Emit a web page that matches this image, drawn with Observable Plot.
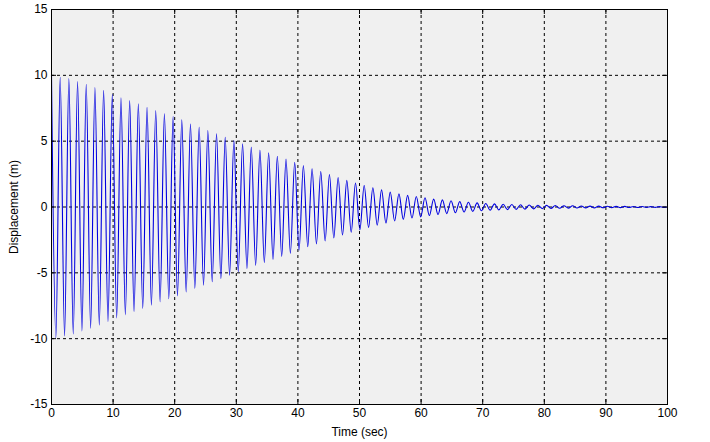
<!DOCTYPE html>
<html>
<head>
<meta charset="utf-8">
<script src="https://cdn.jsdelivr.net/npm/d3@7"></script>
<script src="https://cdn.jsdelivr.net/npm/@observablehq/plot@0.6"></script>
<style>
  html, body { margin: 0; padding: 0; background: white; }
</style>
</head>
<body>
<div id="chart"></div>
<script>
// Tick values
const xTicks = [0, 10, 20, 30, 40, 50, 60, 70, 80, 90, 100];
const yTicks = [-15, -10, -5, 0, 5, 10, 15];

// Times (sec) of successive extremes (peak, trough, peak, ...)
const times = [
  0, 0.71, 1.41, 2.12, 2.82, 3.53, 4.23, 4.94, 5.64, 6.35,
  7.05, 7.76, 8.46, 9.17, 9.87, 10.58, 11.28, 11.99, 12.69, 13.40,
  14.10, 14.81, 15.51, 16.22, 16.92, 17.63, 18.33, 19.04, 19.74, 20.45,
  21.15, 21.86, 22.56, 23.27, 23.97, 24.68, 25.38, 26.09, 26.79, 27.50,
  28.20, 28.91, 29.61, 30.32, 31.02, 31.73, 32.43, 33.14, 33.84, 34.55,
  35.25, 35.96, 36.66, 37.37, 38.07, 38.78, 39.48, 40.19, 40.89, 41.60,
  42.30, 43.01, 43.71, 44.42, 45.12, 45.83, 46.53, 47.24, 47.94, 48.65,
  49.35, 50.06, 50.76, 51.47, 52.17, 52.88, 53.58, 54.29, 54.99, 55.70,
  56.40, 57.11, 57.81, 58.52, 59.22, 59.93, 60.63, 61.34, 62.04, 62.75,
  63.45, 64.16, 64.86, 65.57, 66.27, 66.98, 67.68, 68.39, 69.09, 69.80,
  70.50, 71.21, 71.91, 72.62, 73.32, 74.03, 74.73, 75.44, 76.14, 76.85,
  77.55, 78.26, 78.96, 79.67, 80.37, 81.08, 81.78, 82.49, 83.19, 83.90,
  84.60, 85.31, 86.01, 86.72, 87.42, 88.13, 88.83, 89.54, 90.24, 90.95,
  91.65, 92.36, 93.06, 93.77, 94.47, 95.18, 95.88, 96.59, 97.29, 98.00,
  98.70, 99.41, 100
];

// Displacement (m) at those extremes
const displacement = [
  10.00, -9.93, 9.86, -9.80, 9.75, -9.64, 9.53, -9.42, 9.32, -9.20,
  9.08, -8.97, 8.86, -8.70, 8.55, -8.43, 8.30, -8.19, 8.08, -7.96,
  7.84, -7.71, 7.58, -7.46, 7.33, -7.20, 7.08, -6.97, 6.87, -6.75,
  6.62, -6.46, 6.30, -6.18, 6.06, -5.93, 5.81, -5.68, 5.56, -5.43,
  5.30, -5.18, 5.05, -4.92, 4.80, -4.68, 4.55, -4.44, 4.32, -4.22,
  4.12, -3.98, 3.85, -3.75, 3.65, -3.52, 3.40, -3.28, 3.15, -3.02,
  2.90, -2.80, 2.70, -2.58, 2.47, -2.35, 2.24, -2.13, 2.02, -1.92,
  1.82, -1.72, 1.63, -1.55, 1.46, -1.38, 1.30, -1.22, 1.13, -1.06,
  1.00, -0.94, 0.88, -0.84, 0.80, -0.75, 0.70, -0.65, 0.60, -0.57,
  0.54, -0.50, 0.47, -0.44, 0.41, -0.38, 0.36, -0.33, 0.31, -0.29,
  0.27, -0.25, 0.24, -0.22, 0.21, -0.20, 0.19, -0.18, 0.17, -0.16,
  0.15, -0.14, 0.13, -0.12, 0.12, -0.11, 0.11, -0.10, 0.10, -0.09,
  0.09, -0.08, 0.08, -0.07, 0.07, -0.07, 0.07, -0.06, 0.06, -0.05,
  0.05, -0.05, 0.05, -0.04, 0.04, -0.04, 0.04, -0.03, 0.03, -0.03,
  0.03, -0.03, 0
];

const data = times.map((t, i) => ({t, v: displacement[i]}));

const W = 710, H = 442;
const mL = 51, mR = 43, mT = 9, mB = 38;
const innerW = W - mL - mR, innerH = H - mT - mB;

const chart = Plot.plot({
  width: W,
  height: H,
  marginLeft: mL,
  marginRight: mR,
  marginTop: mT,
  marginBottom: mB,
  style: {fontFamily: "'Liberation Sans', Arial, sans-serif", fontSize: "12px", background: "white", color: "black", overflow: "visible"},
  x: {domain: [0, 100]},
  y: {domain: [-15, 15]},
  marks: [
    Plot.frame({fill: "#f0f0f0", stroke: null}),
    Plot.gridX(xTicks.slice(1, -1), {stroke: "black", strokeOpacity: 1, strokeWidth: 1, strokeDasharray: "3,3"}),
    Plot.gridY(yTicks.slice(1, -1), {stroke: "black", strokeOpacity: 1, strokeWidth: 1, strokeDasharray: "3,3"}),
    Plot.line(data, {x: "t", y: "v", stroke: "#0000e0", strokeWidth: 1.1, curve: "monotone-x"}),
    // inward tick marks
    Plot.ruleX(xTicks, {x: d => d, insetTop: innerH - 5, stroke: "black"}),
    Plot.ruleX(xTicks, {x: d => d, insetBottom: innerH - 5, stroke: "black"}),
    Plot.ruleY(yTicks, {y: d => d, insetRight: innerW - 5, stroke: "black"}),
    Plot.ruleY(yTicks, {y: d => d, insetLeft: innerW - 5, stroke: "black"}),
    Plot.frame({stroke: "black", strokeWidth: 1}),
    Plot.axisX(xTicks, {tickSize: 0, tickPadding: 4, fontSize: 12, tickFormat: d => String(d), label: "Time (sec)", labelAnchor: "center", labelArrow: "none", labelOffset: 31}),
    Plot.axisY(yTicks, {tickSize: 0, tickPadding: 4, fontSize: 12, tickFormat: d => String(d), label: "Displacement (m)", labelAnchor: "center", labelArrow: "none", labelOffset: 42})
  ]
});

document.getElementById("chart").appendChild(chart);
</script>
</body>
</html>
